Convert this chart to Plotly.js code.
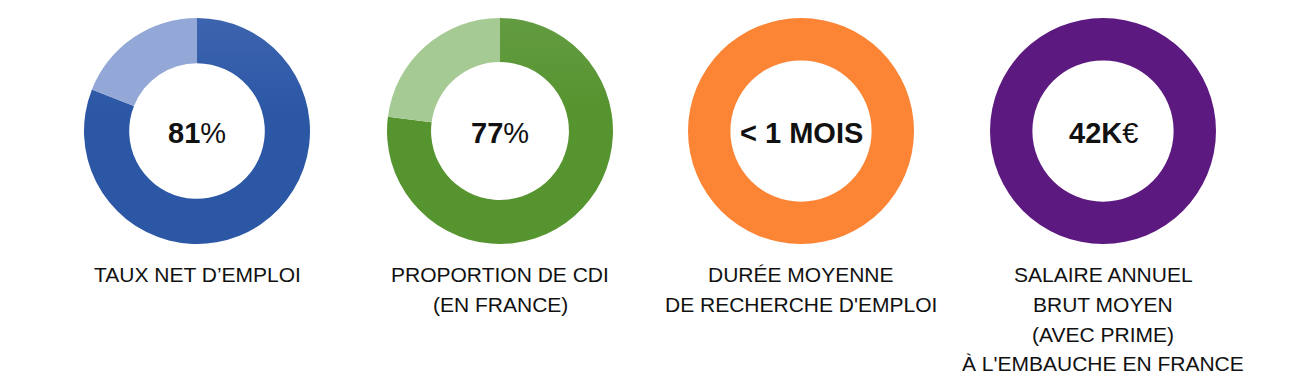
<!DOCTYPE html>
<html>
<head>
<meta charset="utf-8">
<script src="https://cdn.plot.ly/plotly-3.0.1.min.js"></script>
<style>
html,body{margin:0;padding:0;background:#fff;}
#chart{width:1305px;height:383px;}
</style>
</head>
<body>
<div id="chart"></div>
<script>
// ---- data ----
const categories = [
  'TAUX NET D\u2019EMPLOI',
  'PROPORTION DE CDI<br>(EN FRANCE)',
  'DURÉE MOYENNE<br>DE RECHERCHE D\'EMPLOI',
  'SALAIRE ANNUEL<br>BRUT MOYEN<br>(AVEC PRIME)<br>À L\'EMBAUCHE EN FRANCE'
];
const mainValues = [81, 77, 100, 100];
const restValues = [19, 23, 0, 0];
const centerNumbers = ['81', '77', '< 1 MOIS', '42K'];
const centerUnits = ['%', '%', '', '€'];

// ---- style ----
const W = 1305, H = 383;
const centersX = [197, 500, 801, 1103];
const centerY = 131;
const radius = 113;
const mainColors = ['#3b62ae', '#5f9a39', '#fb8535', '#5c1a80'];
const restColors = ['#93a8d7', '#a6ca93', '#fb8535', '#5c1a80'];
const gradients = [['#5676bc', '#2b57a5'], ['#73a65a', '#56942f'], null, null];
const holes = [0.6, 0.61, 0.625, 0.625];
const labelFirstY = 275, labelStep = 29.5;

const traces = [];
const annotations = [];
for (let i = 0; i < categories.length; i++) {
  const cx = centersX[i];
  traces.push({
    type: 'pie',
    values: [mainValues[i], restValues[i]],
    labels: ['a' + i, 'b' + i],
    sort: false,
    direction: 'clockwise',
    rotation: 0,
    hole: holes[i],
    textinfo: 'none',
    hoverinfo: 'none',
    showlegend: false,
    marker: {colors: [mainColors[i], restColors[i]], line: {width: 0}},
    domain: {
      x: [(cx - radius) / W, (cx + radius) / W],
      y: [(H - centerY - radius) / H, (H - centerY + radius) / H]
    }
  });
  annotations.push({
    xref: 'paper', yref: 'paper',
    x: cx / W, y: (H - centerY - 2) / H,
    xanchor: 'center', yanchor: 'middle',
    showarrow: false,
    text: '<b>' + centerNumbers[i] + '</b>' + centerUnits[i],
    font: {family: 'Liberation Sans, Arial, sans-serif', size: 29, color: '#111'}
  });
  const lines = categories[i].split('<br>');
  lines.forEach(function (ln, k) {
    annotations.push({
      xref: 'paper', yref: 'paper',
      x: cx / W, y: (H - (labelFirstY + k * labelStep)) / H,
      xanchor: 'center', yanchor: 'middle',
      showarrow: false,
      text: ln,
      font: {family: 'Liberation Sans, Arial, sans-serif', size: 21, color: '#111'}
    });
  });
}

const layout = {
  width: W, height: H,
  margin: {l: 0, r: 0, t: 0, b: 0},
  paper_bgcolor: '#fff',
  plot_bgcolor: '#fff',
  showlegend: false,
  annotations: annotations
};

Plotly.newPlot('chart', traces, layout, {displayModeBar: false, staticPlot: true}).then(function (gd) {
  // vertical colour gradients on the main slices
  const svg = gd.querySelector('svg.main-svg');
  const ns = 'http://www.w3.org/2000/svg';
  let defs = svg.querySelector('defs');
  if (!defs) { defs = document.createElementNS(ns, 'defs'); svg.insertBefore(defs, svg.firstChild); }
  const pies = gd.querySelectorAll('g.trace');
  pies.forEach(function (tr, i) {
    if (!gradients[i]) return;
    const id = 'pieGrad' + i;
    const lg = document.createElementNS(ns, 'linearGradient');
    lg.setAttribute('id', id);
    lg.setAttribute('gradientUnits', 'userSpaceOnUse');
    lg.setAttribute('x1', 0); lg.setAttribute('x2', 0);
    lg.setAttribute('y1', -radius); lg.setAttribute('y2', radius);
    [[0, gradients[i][0]], [1, gradients[i][1]]].forEach(function (s) {
      const st = document.createElementNS(ns, 'stop');
      st.setAttribute('offset', s[0]);
      st.setAttribute('stop-color', s[1]);
      lg.appendChild(st);
    });
    defs.appendChild(lg);
    const path = tr.querySelector('g.slice path.surface');
    if (path) path.style.fill = 'url(#' + id + ')';
  });
});
</script>
</body>
</html>
